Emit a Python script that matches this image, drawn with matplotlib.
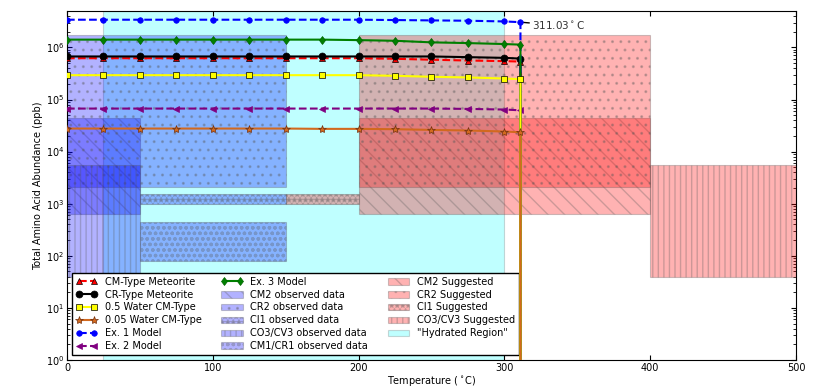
import numpy as np
import matplotlib
matplotlib.use('Agg')
import matplotlib.pyplot as plt

# temperatures (C); last point repeated for the drop at the decomposition temperature
temps = [0, 25, 50, 75, 100, 125, 150, 175, 200, 225, 250, 275, 300, 311.03, 311.03]

cm_type = [6.2e5] * 9 + [6.05e5, 5.8e5, 5.6e5, 5.45e5, 5.35e5, 0]
cr_type = [6.7e5] * 11 + [6.5e5, 6.3e5, 6.1e5, 0]
water_05 = [2.93e5] * 9 + [2.85e5, 2.73e5, 2.65e5, 2.53e5, 2.46e5, 0]
water_005 = [2.77e4] * 7 + [2.73e4, 2.73e4, 2.69e4, 2.61e4, 2.54e4, 2.43e4, 2.35e4, 0]
ex1 = [3.4e6] * 9 + [3.35e6, 3.3e6, 3.25e6, 3.15e6, 3.05e6, 0]
ex2 = [6.7e4] * 11 + [6.6e4, 6.42e4, 6.2e4, 0]
ex3 = [1.41e6] * 8 + [1.38e6, 1.34e6, 1.25e6, 1.21e6, 1.16e6, 1.13e6, 0]

# observed / suggested abundance ranges (ppb) over temperature ranges (C)
obs_labels = ['CM2 observed data', 'CR2 observed data', 'CI1 observed data',
              'CO3/CV3 observed data', 'CM1/CR1 observed data']
obs_t = [(0, 50), (0, 150), (50, 150), (0, 50), (50, 150)]
obs_ppb = [(630, 4.5e4), (2.1e3, 1.7e6), (1.0e3, 1.55e3), (40, 5.6e3), (80, 450)]
obs_hatch = ['\\\\', '..', '***', '|||', 'ooo']

sug_labels = ['CM2 Suggested', 'CR2 Suggested', 'CI1 Suggested', 'CO3/CV3 Suggested']
sug_t = [(200, 400), (200, 400), (150, 200), (400, 500)]
sug_ppb = [(630, 4.5e4), (2.1e3, 1.7e6), (1.0e3, 1.55e3), (40, 5.6e3)]
sug_hatch = ['\\\\', '..', '***', '|||']

hydrated = (25, 300)
t_max = 311.03


def plot():
    fig = plt.figure(figsize=(8.3, 3.87), dpi=100)
    ax = fig.add_axes([0.0807, 0.0698, 0.8783, 0.9018])

    ax.plot(temps, cm_type, 'r--^', label='CM-Type Meteorite', zorder=5, ms=5, mew=0.5, mec='k')
    ax.plot(temps, cr_type, 'k-o', label='CR-Type Meteorite', zorder=5, ms=5, mew=0.5, mec='k')
    ax.plot(temps, water_05, '-s', color='yellow', label='0.5 Water CM-Type', zorder=8,
            ms=4.5, mew=0.5, mec='k')
    ax.plot(temps, water_005, '-*', color='chocolate', label='0.05 Water CM-Type', zorder=9,
            ms=6, mew=0.5, mec='#703010')
    ax.plot(temps, ex1, 'b--o', label='Ex. 1 Model', zorder=5, ms=4, mew=0.5, mec='b')
    ax.plot(temps, ex2, '--<', color='purple', label='Ex. 2 Model', zorder=5, ms=4,
            mew=0.5, mec='purple')
    ax.plot(temps, ex3, '-d', color='green', label='Ex. 3 Model', zorder=7, ms=4.5,
            mew=0.5, mec='darkgreen')

    for lab, t, p, h in zip(obs_labels, obs_t, obs_ppb, obs_hatch):
        ax.fill_between(t, p[0], p[1], facecolor='blue', edgecolor='0.35', alpha=0.3,
                        hatch=h, lw=0.8, label=lab, zorder=2)
    for lab, t, p, h in zip(sug_labels, sug_t, sug_ppb, sug_hatch):
        ax.fill_between(t, p[0], p[1], facecolor='red', edgecolor='0.35', alpha=0.3,
                        hatch=h, lw=0.8, label=lab, zorder=2)
    ax.axvspan(hydrated[0], hydrated[1], facecolor='cyan', edgecolor='0.35', alpha=0.25,
               lw=0.8, label='"Hydrated Region"', zorder=1)

    ax.annotate('311.03$^\\circ$C', xy=(t_max, ex1[-2]), xytext=(319, 2.65e6),
                fontsize=7.5, va='center', color='#333333',
                arrowprops=dict(arrowstyle='-', color='k', lw=1, shrinkA=0, shrinkB=0))

    ax.set_yscale('log')
    ax.set_xlim(0, 500)
    ax.set_ylim(1, 5e6)
    ax.set_xticks([0, 100, 200, 300, 400, 500])
    ax.tick_params(which='both', direction='in', top=True, right=True, labelsize=7, pad=2)
    ax.set_xlabel('Temperature ($^\\circ$C)', fontsize=7, labelpad=1)
    ax.set_ylabel('Total Amino Acid Abundance (ppb)', fontsize=7, labelpad=2)

    ax.legend(loc='lower left', ncol=3, fontsize=7, labelspacing=0.3, numpoints=2,
              handlelength=2.2, columnspacing=2.0, fancybox=False,
              framealpha=1, edgecolor='k')

    fig.savefig('out.png', dpi=100)


if __name__ == '__main__':
    plot()
